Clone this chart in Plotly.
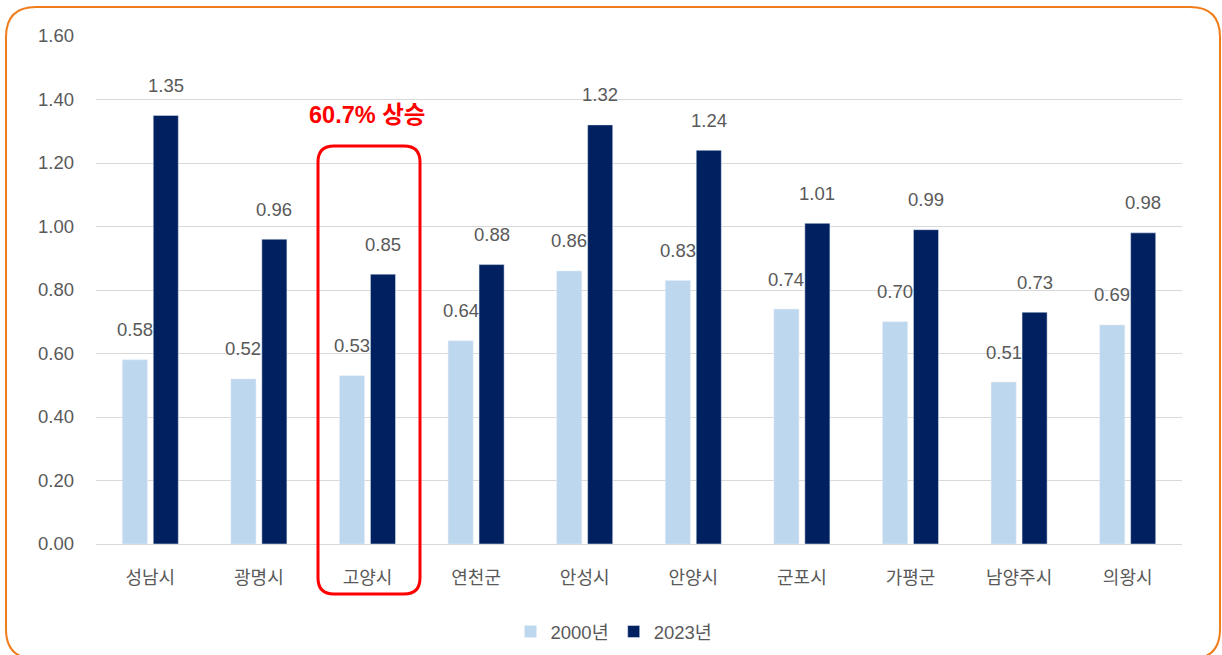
import plotly.graph_objects as go

cities = ['성남시', '광명시', '고양시', '연천군', '안성시', '안양시', '군포시', '가평군', '남양주시', '의왕시']
y2000 = [0.58, 0.52, 0.53, 0.64, 0.86, 0.83, 0.74, 0.70, 0.51, 0.69]
y2023 = [1.35, 0.96, 0.85, 0.88, 1.32, 1.24, 1.01, 0.99, 0.73, 0.98]
series_names = ['2000년', '2023년']
y_ticks = [0, 0.2, 0.4, 0.6, 0.8, 1.0, 1.2, 1.4, 1.6]
callout_text = '60.7% 상승'

W, H = 1222, 655
L, R, T, B = 96, 40, 36, 111
pw, ph = W - L - R, H - T - B

light = '#BDD7EE'
dark = '#002060'
grey = '#595959'
font_fam = 'Liberation Sans, Noto Sans CJK KR, sans-serif'


def px(x):
    return (x - L) / pw


def py(y):
    return (H - B - y) / ph


def rounded_rect(x0, y0, x1, y1, r):
    # pixel box -> paper coordinate svg path with rounded corners
    pts = [
        ('M', [(x0 + r, y0)]),
        ('L', [(x1 - r, y0)]),
        ('Q', [(x1, y0), (x1, y0 + r)]),
        ('L', [(x1, y1 - r)]),
        ('Q', [(x1, y1), (x1 - r, y1)]),
        ('L', [(x0 + r, y1)]),
        ('Q', [(x0, y1), (x0, y1 - r)]),
        ('L', [(x0, y0 + r)]),
        ('Q', [(x0, y0), (x0 + r, y0)]),
    ]
    s = ''
    for cmd, ps in pts:
        s += cmd + ' ' + ' '.join('%.5f,%.5f' % (px(a), py(b)) for a, b in ps) + ' '
    return s + 'Z'


fig = go.Figure()
fig.add_trace(go.Bar(x=cities, y=y2000, name=series_names[0], marker_color=light))
fig.add_trace(go.Bar(x=cities, y=y2023, name=series_names[1], marker_color=dark))

# value labels, offset above the bars
annotations = []
for vals, shift in [(y2000, -15.5), (y2023, 15.5)]:
    for c, v in zip(cities, vals):
        annotations.append(dict(
            x=c, y=v, text='%.2f' % v, showarrow=False, xref='x', yref='y',
            xshift=shift, yshift=30, yanchor='middle',
            font=dict(size=18.5, color=grey, family=font_fam)))

annotations.append(dict(
    x=px(367), y=py(115), xref='paper', yref='paper', xanchor='center', yanchor='middle',
    text='<b>' + callout_text + '</b>', showarrow=False,
    font=dict(size=23.5, color='#FF0000', family=font_fam)))

fig.update_layout(
    width=W, height=H,
    margin=dict(l=L, r=R, t=T, b=B, autoexpand=False),
    paper_bgcolor='white', plot_bgcolor='white',
    barmode='group', bargap=0.43, bargroupgap=0.19,
    font=dict(family=font_fam, color=grey, size=15),
    showlegend=True,
    legend=dict(orientation='h', x=px(614), xanchor='center', y=py(632), yanchor='middle',
                font=dict(size=18.5, color=grey), traceorder='normal'),
    xaxis=dict(showgrid=False, showline=True, linecolor='#D9D9D9', linewidth=1, automargin=False,
               ticks='', tickfont=dict(size=18, color=grey), ticklabelstandoff=17),
    yaxis=dict(range=[0, 1.6], tickvals=y_ticks, tickformat='.2f', showgrid=True, automargin=False,
               gridcolor='#D9D9D9', gridwidth=1, zeroline=False, showline=False,
               tickfont=dict(size=18.5, color=grey), ticklabelstandoff=21),
    annotations=annotations,
    shapes=[
        dict(type='path', xref='paper', yref='paper', path=rounded_rect(318, 146, 420, 594, 16),
             line=dict(color='#FF0000', width=3)),
        dict(type='path', xref='paper', yref='paper', path=rounded_rect(6, 7, 1220, 659, 30),
             line=dict(color='#F07D1C', width=2)),
    ],
)

fig.write_html('out.html', config={'displayModeBar': False},
               post_script="document.body.style.margin='0px';")
